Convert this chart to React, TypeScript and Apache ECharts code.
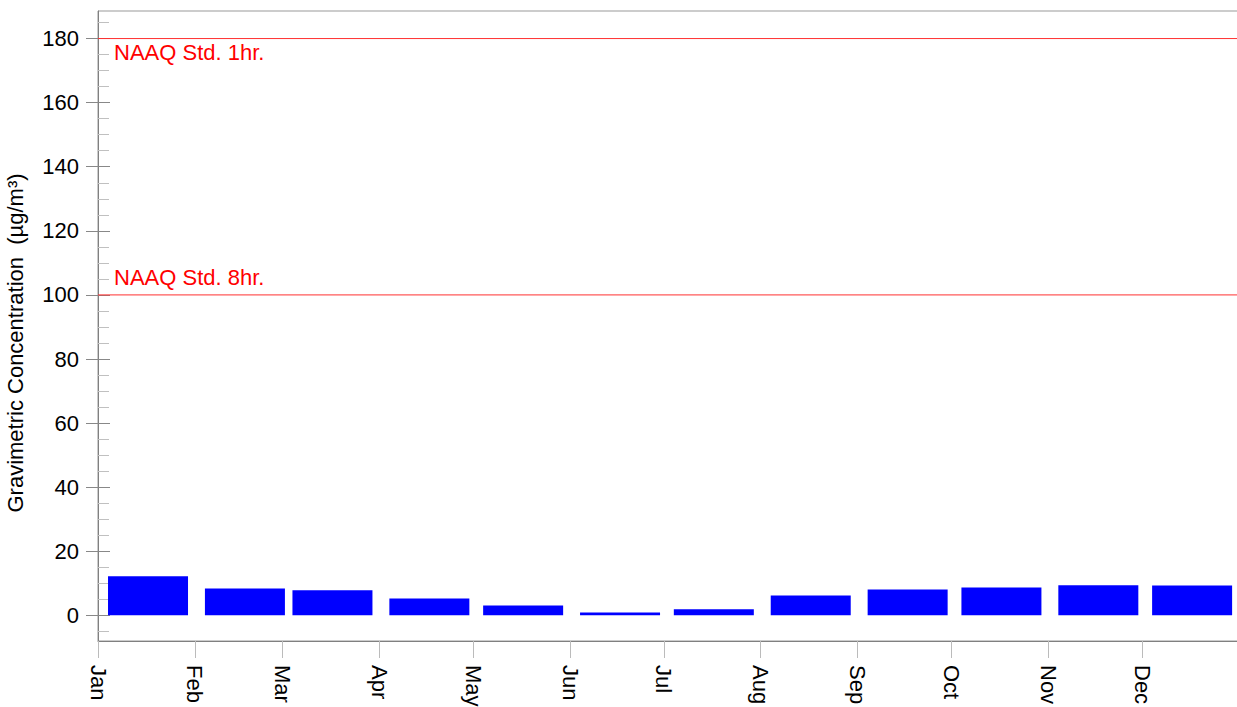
import React, { useEffect, useRef } from "react";
import * as echarts from "echarts";

const monthNames = ["Jan", "Feb", "Mar", "Apr", "May", "Jun", "Jul", "Aug", "Sep", "Oct", "Nov", "Dec"];
const monthStartDays = [0, 31, 59, 90, 120, 151, 181, 212, 243, 273, 304, 334];
const barCenterDays = [16, 47, 75, 106, 136, 167, 197, 228, 259, 289, 320, 350];
const monthlyValues = [12.2, 8.4, 7.8, 5.3, 3.1, 0.9, 1.9, 6.2, 8.1, 8.7, 9.4, 9.3];
const yMajorTicks = [0, 20, 40, 60, 80, 100, 120, 140, 160, 180];
const yMinorTicks = [-5, 5, 10, 15, 25, 30, 35, 45, 50, 55, 65, 70, 75, 85, 90, 95, 105, 110, 115, 125, 130, 135, 145, 150, 155, 165, 170, 175, 185];
const standards = [
  { value: 180, label: "NAAQ Std. 1hr." },
  { value: 100, label: "NAAQ Std. 8hr." },
];

const FONT = "'Liberation Sans', Arial, Helvetica, sans-serif";
const X_MIN = 0;
const X_MAX = 365;
const Y_MIN = -8;
const Y_MAX = 188.6;
const FS = 22;

export default function App() {
  const ref = useRef<HTMLDivElement>(null);

  useEffect(() => {
    if (!ref.current) return;
    const chart = echarts.init(ref.current, undefined, { renderer: "svg" });
    const yBase = { type: "value", min: Y_MIN, max: Y_MAX, position: "left", splitLine: { show: false } };
    chart.setOption({
      animation: false,
      textStyle: { fontFamily: FONT },
      grid: {
        left: 98, top: 11, width: 1141, height: 630,
        containLabel: false, outerBoundsMode: "none",
        show: true, borderColor: "#999", borderWidth: 1, backgroundColor: "transparent",
      },
      xAxis: {
        type: "value",
        min: X_MIN,
        max: X_MAX,
        splitLine: { show: false },
        axisLine: { show: true, onZero: false, lineStyle: { color: "#808080", width: 1 } },
        axisTick: { show: true, customValues: monthStartDays, length: 17, lineStyle: { color: "#bbbbbb" } },
        axisLabel: {
          customValues: monthStartDays,
          rotate: -90,
          margin: 24,
          fontSize: FS,
          color: "#000",
          fontFamily: FONT,
          formatter: (v: number) => {
            const i = monthStartDays.indexOf(Math.round(v));
            return i >= 0 ? monthNames[i] : "";
          },
        },
      },
      yAxis: [
        {
          ...yBase,
          name: "Gravimetric Concentration  (µg/m³)",
          nameLocation: "middle",
          nameGap: 72,
          nameTextStyle: { fontSize: FS, color: "#000", fontFamily: FONT, padding: [0, 0, 0, -34] },
          axisLine: { show: true, onZero: false, lineStyle: { color: "#808080", width: 1 } },
          axisTick: { show: true, customValues: yMajorTicks, length: 12, lineStyle: { color: "#888" } },
          axisLabel: { customValues: yMajorTicks, fontSize: FS, color: "#000", margin: 19, fontFamily: FONT },
        },
        {
          ...yBase,
          axisLine: { show: false },
          axisTick: { show: true, inside: true, customValues: yMinorTicks, length: 11, lineStyle: { color: "#c0c0c0" } },
          axisLabel: { show: false },
        },
        {
          ...yBase,
          axisLine: { show: false },
          axisTick: { show: true, inside: true, customValues: yMajorTicks, length: 12, lineStyle: { color: "#888" } },
          axisLabel: { show: false },
        },
      ],
      series: [
        {
          type: "bar",
          xAxisIndex: 0,
          yAxisIndex: 0,
          barWidth: 80,
          itemStyle: { color: "#0000ff" },
          data: barCenterDays.map((d, i) => [d, monthlyValues[i]]),
        },
        ...standards.map((s, i) => ({
          type: "line",
          xAxisIndex: 0,
          yAxisIndex: 0,
          silent: true,
          symbol: "none",
          z: 5,
          itemStyle: { color: "#ff3030" },
          lineStyle: { color: "#ff3030", width: 1, type: "solid" },
          data: [[X_MIN, s.value], [X_MAX, s.value]],
          markLine: {
            silent: true,
            symbol: "none",
            lineStyle: { color: "rgba(255,0,0,0)", width: 1 },
            data: [{
              yAxis: s.value,
              lineStyle: { color: "rgba(255,0,0,0)", width: 1 },
              label: {
                show: true,
                formatter: s.label,
                position: i === 0 ? "insideStartBottom" : "insideStartTop",
                distance: i === 0 ? [16, 3] : [16, 6],
                color: "#ff0000",
                opacity: 1,
                fontSize: FS,
                fontFamily: FONT,
              },
            }],
          },
        })),
      ],
    });
    return () => chart.dispose();
  }, []);

  return <div ref={ref} style={{ position: "fixed", left: 0, top: 0, width: 1237, height: 707, background: "#fff" }} />;
}
